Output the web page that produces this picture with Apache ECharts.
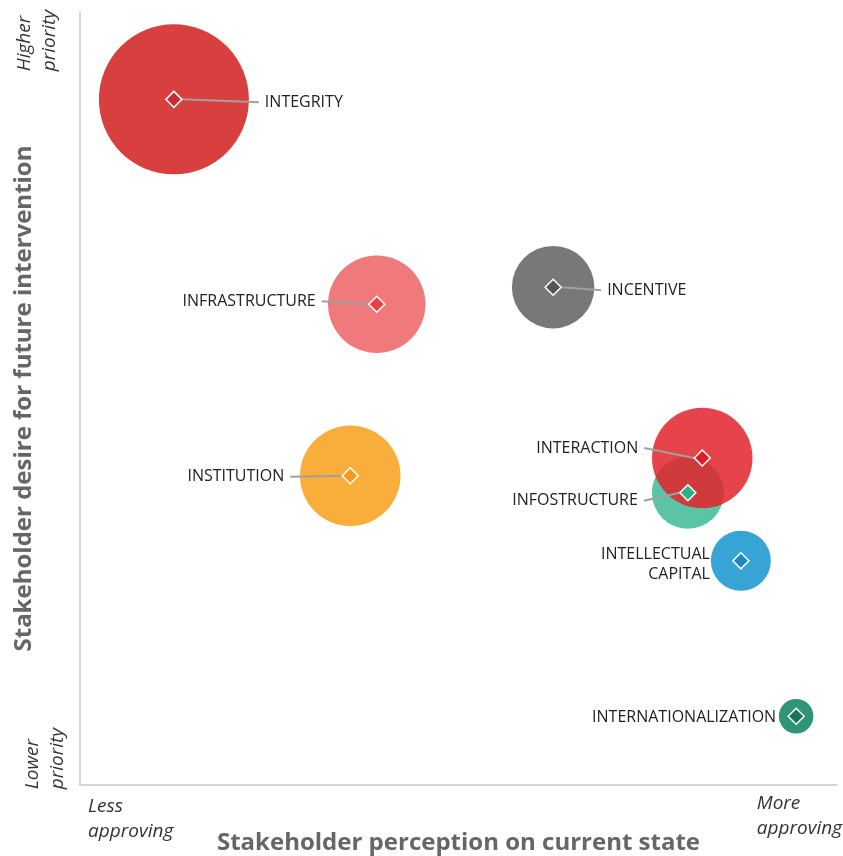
<!DOCTYPE html>
<html>
<head>
<meta charset="utf-8">
<script src="https://cdn.jsdelivr.net/npm/echarts@6/dist/echarts.min.js"></script>
<style>
  html, body { margin: 0; padding: 0; background: #fff; }
  #chart { width: 843px; height: 856px; }
</style>
</head>
<body>
<div id="chart"></div>
<script>
// categories (draw order: later ones sit on top)
var names = ["INTEGRITY", "INFRASTRUCTURE", "INCENTIVE", "INSTITUTION",
  "INFOSTRUCTURE", "INTERACTION", "INTELLECTUAL\nCAPITAL", "INTERNATIONALIZATION"];
// perception on current state (0 = less approving, 100 = more approving)
var perception = [12.4, 39.2, 62.5, 35.7, 80.3, 82.2, 87.3, 94.6];
// desire for future intervention (0 = lower priority, 100 = higher priority)
var desire = [88.7, 62.2, 64.4, 40.0, 37.8, 42.3, 29.0, 8.9];
// bubble weight
var weight = [100, 65, 55, 67, 48, 67, 40, 23];

// styles
var bubbleColors = ["#d7403f", "#f07a7b", "#787878", "#f9ad3a",
  "#5cc4a6", "rgba(226,36,44,0.86)", "#36a4d4", "#2f9478"];
var diamondColors = ["#c62a2e", "#e8403f", "#555555", "#f59a1c",
  "#2fae8a", "#dc1e2a", "#1e86c0", "#167556"];
// label offset from the diamond centre, side, leader line
var labelPlace = [
  { dx: 91, dy: 3, side: "left", line: true },
  { dx: -61, dy: -3, side: "right", line: true },
  { dx: 54, dy: 3, side: "left", line: true },
  { dx: -66, dy: 1, side: "right", line: true },
  { dx: -50, dy: 8, side: "right", line: true },
  { dx: -64, dy: -10, side: "right", line: true },
  { dx: -31, dy: 4, side: "right", line: false },
  { dx: -20, dy: 1, side: "right", line: false }
];

var chart = echarts.init(document.getElementById("chart"));

var bubbleData = names.map(function (n, i) {
  return {
    name: n,
    value: [perception[i], desire[i], weight[i]],
    itemStyle: { color: bubbleColors[i] }
  };
});
var diamondData = names.map(function (n, i) {
  return {
    name: n,
    value: [perception[i], desire[i]],
    itemStyle: { color: diamondColors[i] },
    labelLine: { show: labelPlace[i].line }
  };
});

var italic = { fontFamily: "Open Sans", fontStyle: "italic", fontSize: 19, fill: "#333", lineHeight: 25 };

chart.setOption({
  animation: false,
  grid: { left: 80, right: 6, top: 12, bottom: 71, outerBoundsMode: "none" },
  xAxis: {
    type: "value", min: 0, max: 100,
    name: "Stakeholder perception on current state",
    nameLocation: "middle", nameGap: 46,
    nameTextStyle: { fontFamily: "Open Sans", fontWeight: "bold", fontSize: 24, color: "#666" },
    axisLine: { show: true, lineStyle: { color: "#c8c8c8", width: 1.5 } },
    axisTick: { show: false }, axisLabel: { show: false }, splitLine: { show: false }
  },
  yAxis: {
    type: "value", min: 0, max: 100,
    name: "Stakeholder desire for future intervention",
    nameLocation: "middle", nameGap: 44,
    nameTextStyle: { fontFamily: "Open Sans", fontWeight: "bold", fontSize: 24, color: "#666" },
    axisLine: { show: true, lineStyle: { color: "#c8c8c8", width: 1.5 } },
    axisTick: { show: false }, axisLabel: { show: false }, splitLine: { show: false }
  },
  graphic: [
    { type: "text", left: 12, top: 10, rotation: Math.PI / 2,
      style: Object.assign({ text: "Higher\npriority", align: "center" }, italic) },
    { type: "text", left: 20, top: 728, rotation: Math.PI / 2,
      style: Object.assign({ text: "Lower\npriority", align: "center" }, italic) },
    { type: "text", left: 88, top: 794,
      style: Object.assign({ text: "Less\napproving", align: "left" }, italic) },
    { type: "text", right: 1, top: 791,
      style: Object.assign({ text: "More\napproving", align: "right" }, italic) }
  ],
  series: [
    {
      type: "scatter",
      data: bubbleData,
      symbolSize: function (v) { return v[2] * 1.5; },
      itemStyle: { opacity: 1 },
      z: 2,
      silent: true
    },
    {
      type: "scatter",
      data: diamondData,
      symbol: "diamond",
      symbolSize: 16,
      z: 3,
      itemStyle: { opacity: 1, borderColor: "#fff", borderWidth: 1.5 },
      label: {
        show: true,
        formatter: "{b}",
        fontFamily: "Open Sans",
        fontSize: 16,
        color: "#222",
        lineHeight: 20,
        padding: [0, 6]
      },
      labelLine: { show: true, lineStyle: { color: "#a0a0a0", width: 2 } },
      labelLayout: function (p) {
        var pl = labelPlace[p.dataIndex];
        var cx = p.rect.x + p.rect.width / 2;
        var cy = p.rect.y + p.rect.height / 2;
        return {
          x: cx + pl.dx + (pl.side === "left" ? -6 : 6),
          y: cy + pl.dy,
          align: pl.side,
          verticalAlign: "middle"
        };
      }
    }
  ]
});
</script>
</body>
</html>
